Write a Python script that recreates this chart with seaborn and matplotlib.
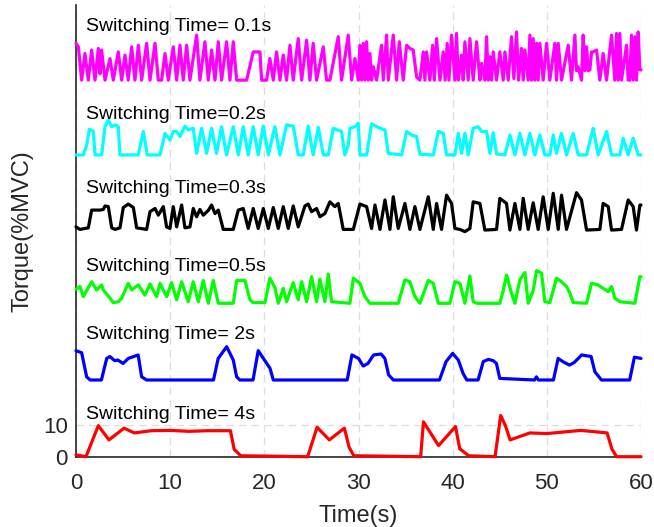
import numpy as np
import pandas as pd
import matplotlib
matplotlib.use("Agg")
import matplotlib.pyplot as plt
import seaborn as sns

# ---------------- data (Torque %MVC vs Time s) ----------------
labels = ["Switching Time= 0.1s", "Switching Time=0.2s", "Switching Time=0.3s",
          "Switching Time=0.5s", "Switching Time= 2s", "Switching Time= 4s"]
colors = ["#ff00ff", "#00ffff", "#000000", "#00ff00", "#0000ff", "#ff0000"]
offsets = [118.8, 95.2, 71.7, 48.4, 24.2, 0.0]
label_y = [135.6, 108.1, 84.7, 60.0, 38.5, 13.2]

red_t = [0, 1.06, 2.37, 3.5, 5.1, 6.2, 8, 10, 12, 14, 16.4, 16.8, 17.5, 24.6, 25.6, 26.9, 28.5, 29.0, 29.5, 36.6,
         36.9, 38.5, 40.3, 40.75, 41.7, 44.5, 45.1, 45.6, 46.1, 48.2, 50, 53.6, 56.4, 56.9, 57.4, 60]
red_v = [0.6, 0, 9.8, 5.3, 9.0, 7.5, 8.2, 8.3, 8.0, 8.2, 8.2, 2.3, 0.3, 0, 9.3, 5.3, 9.0, 3.0, 0.3, 0,
         11, 3.5, 9.5, 2.5, 0.3, 0, 13, 9.8, 5.3, 7.5, 7.3, 8.3, 7.5, 2.5, 0, 0]

blue_t = [0, 0.6, 1.13, 1.5, 2.7, 3.26, 3.6, 4.1, 4.45, 5.0, 5.55, 6.6, 6.97, 7.5, 14.6, 15.1, 16.0, 16.7, 17.06, 17.4,
          18.8, 19.35, 19.9, 20.6, 20.95, 28.8, 29.3, 30.0, 30.5, 31.0, 31.6, 32.4, 32.8, 33.2, 33.7, 38.6, 39.3, 40.0,
          40.6, 41.1, 41.5, 42.7, 43.25, 43.8, 44.3, 44.65, 45.0, 48.7, 48.9, 49.1, 50.7, 51.2, 51.7, 52.4, 52.9, 53.7,
          54.7, 55.1, 55.8, 58.8, 59.3, 60]
blue_v = [9.25, 8.6, 1.0, 0, 0, 6.8, 7.4, 6.1, 6.3, 5.2, 6.8, 7.9, 1.0, 0, 0, 6.8, 10.5, 6.3, 1.0, 0,
          0, 9.25, 6.8, 3.7, 0, 0, 7.9, 6.8, 4.4, 5.2, 7.9, 8.2, 6.8, 1.6, 0, 0, 5.8, 8.4,
          6.3, 2.1, 0, 0, 5.8, 6.5, 6.1, 5.2, 0.5, 0, 1.0, 0, 0, 6.8, 5.8, 4.7, 5.5, 7.9,
          7.4, 2.6, 0, 0, 7.2, 6.8]

green_t = [0, 0.42, 0.78, 1.66, 2.19, 2.72, 2.90, 3.61, 3.96, 4.49, 4.85, 5.55, 5.91, 6.62, 7.32, 7.86, 8.56, 8.92,
           9.62, 10.15, 10.69, 11.22, 11.92, 12.45, 12.99, 13.52, 14.05, 14.58, 15.11, 16.70, 17.06, 17.94, 18.47,
           18.82, 20.06, 20.59, 21.12, 21.48, 22.01, 22.36, 23.07, 23.60, 23.96, 24.49, 25.02, 25.55, 25.90, 26.43,
           26.79, 27.14, 29.09, 29.45, 30.15, 30.68, 31.21, 34.22, 34.93, 35.46, 35.99, 36.52, 37.41, 37.94, 38.47,
           39.71, 40.24, 40.77, 41.30, 41.83, 42.18, 42.54, 45.01, 45.37, 45.72, 46.25, 46.61, 47.14, 47.67, 48.02,
           48.55, 48.91, 49.44, 49.79, 50.32, 51.03, 51.56, 52.09, 52.45, 52.80, 54.22, 54.75, 55.45, 55.98, 56.52,
           56.87, 57.22, 57.75, 59.35, 59.88, 60]
green_v = [4.4, 5.3, 2.1, 6.8, 4.2, 5.8, 4.2, 1.6, 0.2, 0.5, 1.6, 6.3, 4.2, 5.8, 2.6, 6.1, 2.1, 6.3,
           2.1, 6.5, 1.1, 6.8, 0.5, 6.8, 0.5, 7.2, 0, 7.2, 0, 0, 7.2, 7.2, 1.1,
           0.2, 0.2, 7.9, 5.0, 0, 4.7, 0.5, 6.5, 1.1, 6.8, 0.5, 8.4, 0.5, 7.6, 0.5,
           9.2, 0.5, 0, 7.9, 6.3, 2.1, 0, 0, 7.4, 6.8, 2.1, 0, 7.2, 6.3, 0,
           0, 6.8, 6.3, 0, 8.6, 0.5, 0, 0, 4.0, 8.9, 3.2, 0, 7.4, 9.7, 0,
           4.0, 10.3, 9.5, 0.5, 0.2, 7.9, 6.8, 5.3, 3.2, 0.2, 0, 6.3, 5.8, 4.7, 3.7,
           5.3, 1.6, 0.5, 0, 8.4, 8.4]

black_t = [0, 0.42, 1.31, 1.66, 2.55, 2.90, 3.08, 3.43, 3.79, 4.14, 4.67, 5.02, 5.55, 6.09, 6.44, 7.50, 7.86, 8.39,
           8.74, 9.27, 9.62, 9.98, 10.33, 10.69, 11.22, 11.57, 12.10, 12.45, 12.81, 13.16, 13.52, 14.05, 14.40, 14.76,
           15.11, 15.64, 16.70, 17.23, 17.76, 18.29, 18.82, 19.35, 19.89, 20.42, 20.95, 21.48, 22.01, 22.54, 23.07,
           23.60, 24.31, 24.66, 25.02, 25.55, 25.90, 26.43, 26.96, 27.49, 27.85, 28.38, 29.45, 29.8, 30.15, 30.86,
           31.39, 31.75, 32.28, 32.81, 33.34, 33.69, 34.22, 34.93, 35.46, 35.99, 36.52, 37.41, 37.94, 38.29, 38.82,
           39.35, 39.88, 40.24, 40.77, 41.30, 41.83, 42.18, 42.89, 43.42, 44.66, 45.01, 45.72, 46.08, 46.61, 47.14,
           47.49, 48.02, 48.55, 49.08, 49.61, 50.15, 50.68, 51.21, 51.56, 52.09, 53.15, 53.68, 54.22, 55.63, 55.98,
           56.52, 56.87, 57.93, 58.64, 59.17, 59.52, 59.88, 60]
black_v = [0.8, 0, 0.5, 6.1, 6.1, 6.3, 7.4, 7.2, 0.5, 0, 0.5, 6.9, 8.0, 6.9, 0.5, 0, 5.6, 6.6,
           4.5, 7.2, 0.8, 0.3, 7.2, 0.8, 7.7, 0.5, 0.8, 6.6, 4.0, 6.3, 4.5, 6.0, 7.7, 5.0,
           6.1, 0, 0, 6.1, 6.6, 0.3, 6.6, 0.3, 6.6, 0.3, 6.9, 0.3, 7.2, 0.3, 7.4,
           0.8, 7.4, 8.0, 5.6, 6.6, 4.0, 5.0, 8.7, 7.2, 8.2, 0, 0, 4.0, 8.0, 7.2,
           0.3, 7.7, 0, 9.3, 0, 10.3, 0.3, 8.2, 0, 7.2, 0, 10.3, 0, 8.2, 0,
           10.8, 8.2, 0.3, 0, -0.7, 0.3, 8.7, 8.2, -0.2, 0, 9.8, 8.2, -0.2, 8.2, 0,
           9.8, 0, 8.4, 0, 10.3, 0, 11.4, 0, 10.8, 0, 11.6, 9.3, -0.2, 0, 8.2,
           7.2, -0.2, 0, 9.3, 7.2, -0.2, 7.7, 7.7]

cyan_t = [0, 0.78, 1.13, 1.41, 1.84, 2.02, 2.72, 3.08, 3.43, 3.79, 4.14, 4.49, 4.67, 6.62, 7.15, 7.57, 8.92, 9.45,
          9.98, 10.33, 10.69, 11.04, 11.57, 11.92, 12.45, 12.81, 13.34, 13.87, 14.40, 14.93, 15.46, 15.99, 16.70,
          17.23, 17.76, 18.29, 18.82, 19.35, 19.89, 20.42, 21.12, 21.66, 22.36, 23.07, 23.60, 24.13, 24.66, 25.19,
          25.73, 26.26, 26.79, 27.32, 28.2, 28.55, 28.91, 29.09, 29.62, 29.98, 30.15, 30.86, 31.39, 32.28, 32.81,
          33.16, 34.58, 35.11, 35.64, 36.17, 36.52, 37.94, 38.47, 39.00, 39.35, 40.24, 40.59, 40.95, 41.30, 41.65,
          42.18, 42.71, 43.07, 43.60, 43.95, 44.31, 44.66, 45.55, 46.08, 46.61, 47.14, 47.67, 48.20, 48.73, 49.26,
          49.79, 50.32, 50.68, 51.03, 51.56, 52.09, 52.80, 53.33, 54.22, 54.92, 55.45, 56.34, 56.87, 57.75, 58.11,
          58.64, 59.17, 59.70, 60]
cyan_v = [0, 0, 3.0, 8.1, 7.4, 0, 0, 8.9, 11.0, 8.9, 9.5, 8.9, 0, 0, 7.4, 0, 0, 6.8,
          4.7, 7.4, 7.4, 5.8, 9.1, 7.9, 8.4, 0.5, 8.4, 0.5, 8.4, 0.5, 8.9, 0, 8.9,
          0, 8.9, 0, 8.9, 0, 9.1, 0, 8.9, 0, 9.5, 9.1, 0, 0, 9.1, 0,
          8.7, 0, 0, 8.4, 7.4, 0, 3.0, 8.4, 8.9, 10.0, 0, 0, 9.8, 8.4, 7.9,
          0.5, 0, 7.4, 6.3, 5.8, 0.2, 0, 7.4, 6.8, 0, 0, 6.8, 0.5, 6.8, 0,
          8.4, 8.9, 7.4, 7.4, 0.5, 7.0, 0.3, 0, 6.3, 0, 6.8, 0, 6.8, 0, 6.3,
          0, 0, 6.3, 0.5, 6.8, 0, 6.8, 0, 0, 8.4, 0, 7.4, 0, 0, 5.3,
          0, 5.3, 0, 0]

magenta_t = [0, 0.25, 0.60, 0.95, 1.31, 1.66, 2.02, 2.37, 2.55, 2.72, 3.08, 3.61, 3.96, 4.49, 4.85, 5.20, 5.55, 5.91,
             6.26, 6.62, 6.97, 7.50, 7.86, 8.39, 8.74, 9.09, 9.45, 9.80, 10.33, 10.69, 11.04, 11.39, 11.75, 12.10,
             12.81, 13.16, 13.69, 14.05, 14.40, 14.76, 15.11, 15.46, 15.99, 16.35, 16.70, 17.06, 18.12, 18.82, 19.53,
             19.71, 20.24, 20.59, 20.95, 21.30, 21.66, 22.01, 22.36, 22.72, 23.07, 23.60, 23.96, 24.49, 24.84, 25.19,
             25.55, 26.26, 26.61, 26.96, 27.85, 28.2, 28.91, 29.27, 29.62, 29.98, 30.15, 30.33, 30.51, 30.68, 30.86,
             31.04, 31.21, 31.39, 31.57, 31.92, 32.45, 32.63, 32.98, 33.16, 33.69, 34.05, 34.33, 34.75, 35.11, 35.46,
             35.81, 36.17, 36.52, 36.88, 37.05, 37.23, 37.58, 37.87, 38.05, 38.29, 38.65, 39.00, 39.2, 39.42, 39.6,
             39.88, 40.24, 40.41, 40.6, 40.95, 41.12, 41.30, 41.65, 41.83, 42.18, 42.54, 42.89, 43.07, 43.42, 43.60,
             43.78, 43.95, 44.13, 44.31, 44.66, 45.01, 45.37, 45.55, 45.90, 46.25, 46.5, 46.78, 47.0, 47.31, 47.49,
             47.67, 48.02, 48.20, 48.38, 48.55, 48.73, 48.91, 49.08, 49.26, 49.61, 49.97, 50.32, 50.85, 51.03, 51.21,
             51.56, 52.27, 52.62, 52.98, 53.15, 53.33, 53.68, 53.86, 54.05, 54.22, 54.39, 54.57, 54.75, 54.92, 55.28,
             55.63, 55.98, 56.34, 56.87, 57.22, 57.40, 57.58, 57.75, 57.93, 58.46, 58.64, 58.81, 58.99, 59.17, 59.35,
             59.52, 59.70, 59.88, 60]
magenta_v = [11.6, 10.5, 0, 8.4, 0, 9.5, 0, 10.0, 2.0, 9.5, 0, 6.8, 0, 8.9, 0, 7.9, 0, 10.5,
             0, 11.0, 0, 11.6, 0, 11.6, 0, 0, 8.4, 0, 10.5, 0, 11.0, 0, 11.0, 0,
             14.2, 0, 12.1, 0, 9.5, 0, 12.1, 0, 12.1, 0, 12.1, 0, 0, 8.9, 8.9,
             0, 0, 6.8, 0, 8.9, 0, 7.9, 0, 11.0, 0, 13.1, 0, 12.6, 0, 11.6,
             0, 10.5, 0, 0, 13.7, 0, 14.2, 0, 6.8, 0, 11.0, 0, 11.6, 0, 12.1,
             0, 8.4, 0, 4.2, 0, 11.0, 0, 14.2, 0, 14.2, 0, 12.1, 0, 11.0, 10.0,
             9.5, 1.0, 0, 8.9, 0, 8.9, 0, 11.0, 0, 13.1, 0, 8.9, 0, 11.6, 0,
             14.2, 0, 14.7, 0, 7.9, 0, 12.1, 0, 13.1, 0, 12.1, 0, 5.3, 0, 13.7,
             0, 7.4, 0, 8.9, 0, 8.9, 0, 8.9, 0, 13.7, 0.5, 15.2, 0, 10.0, 0,
             9.5, 0, 14.2, 0, 13.1, 0, 11.6, 0, 11.6, 0, 11.6, 0, 11.6, 0, 11.6,
             0, 11.0, 0, 14.2, 3.0, 4.2, 0, 14.2, 3.0, 10.5, 3.0, 3.2, 8.9, 8.9, 9.5,
             0, 8.4, 0, 14.2, 0, 14.7, 0, 14.7, 0, 11.0, 0, 0, 14.2, 0, 13.7,
             0, 15.2, 3.2, 3.2]

series_t = [magenta_t, cyan_t, black_t, green_t, blue_t, red_t]
series_v = [magenta_v, cyan_v, black_v, green_v, blue_v, red_v]

# ---------------- plot ----------------
sns.set_theme(style="white")
plt.rcParams['font.family'] = ['Liberation Sans', 'DejaVu Sans']

fig = plt.figure(figsize=(6.54, 5.27), dpi=100)
ax = fig.add_axes([76 / 654, 1 - 456.7 / 527, (641 - 76) / 654, (456.7 - 5) / 527])

for t, v, off, c in zip(series_t, series_v, offsets, colors):
    df = pd.DataFrame({"Time": t, "Torque": np.asarray(v, float) + off})
    sns.lineplot(data=df, x="Time", y="Torque", color=c, lw=2.3, ax=ax,
                 estimator=None, sort=False, legend=False, clip_on=False, zorder=3,
                 solid_joinstyle="round", solid_capstyle="round")

for lab, y in zip(labels, label_y):
    ax.text(1.06, y, lab, fontsize=14, ha="left", va="center", color="black")

ax.set_xlim(0, 60)
ax.set_ylim(0, 142.5)
ax.set_xticks(range(0, 61, 10))
ax.set_yticks([0, 10])
ax.grid(True, linestyle=(0, (6, 4)), color="#dcdcdc", lw=0.9)
ax.set_axisbelow(True)
for s in ["top", "right"]:
    ax.spines[s].set_visible(False)
for s in ["left", "bottom"]:
    ax.spines[s].set_color("#262626")
    ax.spines[s].set_linewidth(1.2)
ax.tick_params(direction="in", length=5, width=1, colors="#262626", labelsize=16)
ax.tick_params(axis="y", pad=6)
ax.tick_params(axis="x", pad=12)
ax.set_xlabel("Time(s)", fontsize=17, color="#262626", labelpad=8)
ax.set_ylabel("Torque(%MVC)", fontsize=17, color="#262626", labelpad=7)

fig.savefig("out.png", dpi=100)
